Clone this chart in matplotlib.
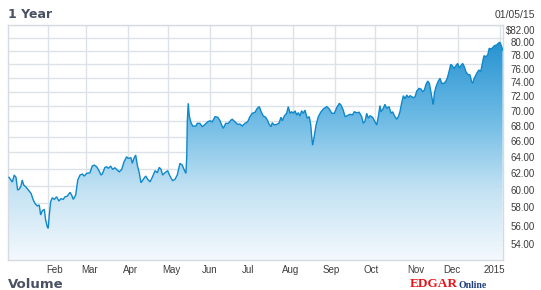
import numpy as np
import pandas as pd
import matplotlib
matplotlib.use("Agg")
import matplotlib.pyplot as plt
from matplotlib.colors import LinearSegmentedColormap
from matplotlib.transforms import blended_transform_factory, ScaledTranslation

# ---- data: day offset from 2014-01-01 and closing price ----
days = [2.4, 3.9, 4.9, 6.3, 7.6, 8.8, 9.8, 11.1, 12.2, 13.3, 14.8, 16.7, 18.7, 20.4, 21.6,
        23.3, 24.8, 25.8, 27.0, 28.5, 29.5, 30.7, 31.4, 32.2, 33.2, 34.4, 35.9, 37.6, 39.3,
        40.8, 42.5, 43.8, 45.5, 47.5, 48.7, 49.9, 51.7, 53.2, 54.9, 56.6, 58.0, 59.8, 62.2,
        63.9, 65.4, 67.2, 68.9, 70.4, 71.3, 73.3, 74.6, 75.8, 77.5, 79.0, 80.7, 82.4, 83.9,
        85.7, 87.4, 89.3, 90.5, 92.5, 93.5, 94.7, 96.0, 97.2, 98.7, 99.9, 101.6, 103.4, 104.9,
        106.6, 108.3, 110.3, 112.0, 113.4, 114.7, 115.9, 117.6, 119.6, 121.3, 123.3, 125.0,
        126.7, 128.7, 130.4, 131.9, 133.1, 133.7, 134.1, 134.8, 135.6, 136.6, 138.1, 140.5,
        141.5, 143.4, 145.2, 147.2, 149.2, 150.9, 152.6, 154.6, 156.6, 158.3, 159.5, 160.7,
        162.5, 164.4, 166.4, 167.3, 169.3, 171.3, 173.0, 174.7, 176.7, 178.7, 180.4, 182.1,
        184.1, 185.8, 187.3, 188.5, 190.2, 192.0, 193.5, 194.5, 195.9, 196.9, 198.4, 200.1,
        201.8, 203.3, 204.3, 205.8, 207.5, 208.7, 210.0, 211.2, 212.4, 213.7, 214.9, 216.1,
        217.3, 218.6, 219.8, 221.0, 222.7, 224.2, 225.3, 226.0, 226.7, 227.7, 229.2, 230.9,
        232.6, 234.6, 237.1, 239.0, 240.8, 242.7, 244.5, 246.4, 247.6, 249.3, 250.6, 252.3,
        254.3, 256.0, 257.5, 259.2, 261.1, 262.9, 264.1, 265.4, 266.6, 267.8, 269.1, 271.1,
        272.7, 274.0, 275.2, 276.4, 277.2, 278.9, 280.1, 281.4, 283.1, 284.6, 285.8, 287.0,
        288.8, 290.0, 291.2, 292.5, 293.7, 294.9, 296.2, 297.4, 298.6, 299.9, 301.1, 302.3,
        303.6, 305.3, 306.7, 308.0, 309.2, 310.4, 311.7, 312.9, 313.9, 315.1, 315.8, 316.6,
        317.8, 319.5, 320.8, 322.0, 323.7, 325.2, 326.2, 327.4, 328.7, 329.8, 331.1, 332.5,
        333.8, 335.0, 336.2, 337.5, 338.7, 339.9, 341.2, 342.9, 344.1, 344.9, 345.8, 347.3,
        348.3, 349.5, 350.8, 352.0, 353.2, 354.7, 356.0, 357.1, 358.4, 359.7, 360.9, 362.6,
        363.8, 365.0, 366.3, 367.0]
prices = [60.97, 60.65, 60.41, 61.24, 60.97, 59.48, 59.56, 59.86, 60.65, 60.06, 59.86, 59.48,
          59.10, 58.33, 57.96, 57.66, 57.77, 56.66, 57.13, 57.29, 56.11, 55.38, 55.21, 56.66,
          58.15, 58.59, 58.41, 58.70, 58.22, 58.48, 58.41, 58.70, 58.78, 59.21, 58.90, 58.41,
          58.90, 60.65, 61.24, 61.36, 61.12, 61.44, 61.51, 62.32, 62.44, 62.23, 61.76, 61.24,
          61.36, 62.16, 62.23, 62.04, 62.32, 61.92, 62.11, 61.83, 61.63, 61.92, 62.84, 63.46,
          63.26, 63.34, 62.65, 63.26, 63.67, 62.44, 61.44, 60.33, 60.73, 61.12, 60.73, 60.44,
          60.97, 61.76, 61.51, 62.16, 61.92, 61.24, 61.51, 61.76, 61.12, 60.57, 60.73, 61.24,
          62.65, 62.44, 61.83, 61.44, 63.46, 67.93, 70.41, 68.70, 67.93, 67.37, 67.37, 67.72,
          67.72, 67.28, 67.59, 67.93, 68.06, 67.93, 68.61, 68.53, 68.06, 67.50, 67.07, 67.72,
          67.72, 68.16, 68.26, 67.93, 67.59, 67.63, 67.37, 67.72, 67.93, 68.61, 69.06, 69.19,
          69.73, 69.96, 69.35, 68.70, 68.53, 68.06, 67.63, 67.28, 67.80, 67.50, 67.59, 67.72,
          68.53, 68.06, 68.70, 69.06, 69.96, 69.06, 69.26, 69.06, 69.39, 68.83, 69.14, 68.70,
          69.39, 69.06, 69.48, 68.40, 68.61, 67.50, 65.98, 64.90, 65.85, 67.50, 68.61, 69.19,
          69.64, 69.96, 69.64, 69.06, 69.06, 69.83, 70.41, 70.18, 69.48, 68.61, 68.74, 68.93,
          68.83, 69.26, 69.14, 69.19, 68.61, 67.72, 68.02, 69.06, 68.40, 68.74, 68.48, 67.93,
          67.50, 68.61, 70.09, 69.26, 69.73, 70.27, 69.73, 69.96, 69.06, 69.26, 68.74, 68.26,
          68.61, 69.29, 70.52, 71.46, 71.04, 71.56, 71.19, 71.46, 71.32, 71.19, 71.32, 72.11,
          72.49, 72.39, 72.02, 72.25, 73.06, 73.53, 73.20, 72.11, 70.87, 70.27, 71.80, 72.72,
          73.53, 73.92, 73.20, 73.20, 73.53, 74.00, 74.88, 75.96, 75.75, 75.37, 75.75, 76.09,
          75.44, 75.75, 76.09, 75.60, 74.88, 74.50, 74.40, 73.43, 73.20, 73.82, 74.40, 74.79,
          75.13, 74.88, 76.09, 77.24, 77.10, 77.35, 78.37, 78.26, 78.47, 78.76, 78.87, 79.14,
          79.30, 78.62, 78.10]

y_ticks = [54, 56, 58, 60, 62, 64, 66, 68, 70, 72, 74, 76, 78, 80, 82]
y_labels = ["54.00", "56.00", "58.00", "60.00", "62.00", "64.00", "66.00", "68.00",
            "70.00", "72.00", "74.00", "76.00", "78.00", "80.00", "$82.00"]
grid_months = ["2014-02-01", "2014-03-01", "2014-04-01", "2014-05-01", "2014-06-01",
               "2014-07-01", "2014-08-01", "2014-09-01", "2014-10-01", "2014-11-01",
               "2014-12-01", "2015-01-01"]
month_labels = ["Feb", "Mar", "Apr", "May", "Jun", "Jul", "Aug", "Sep", "Oct", "Nov", "Dec", "2015"]
month_label_days = [36.4, 62.2, 92.3, 122.0, 150.8, 178.7, 210.7, 240.2, 269.7, 302.7, 329.3, 360.8]

t0 = pd.Timestamp("2014-01-01")
dates = t0 + pd.to_timedelta(np.array(days), unit="D")
x = matplotlib.dates.date2num(dates)
y = np.array(prices)

W, H = 541, 290
fig = plt.figure(figsize=(W / 100, H / 100), dpi=100)
ax = fig.add_axes([8 / W, 1 - 260 / H, (503.3 - 8) / W, (260 - 25) / H])
ax.set_yscale("log")
xmin = matplotlib.dates.date2num(t0 + pd.Timedelta(days=1.7))
xmax = matplotlib.dates.date2num(t0 + pd.Timedelta(days=367.5))
ymin, ymax = 51.91, 82.0
ax.set_xlim(xmin, xmax)
ax.set_ylim(ymin, ymax)

grid_c = "#dde1e8"
for v in y_ticks:
    ax.axhline(v, color=grid_c, lw=1.0, zorder=0)
for m in grid_months:
    ax.axvline(matplotlib.dates.date2num(pd.Timestamp(m)), color=grid_c, lw=1.0, zorder=0)

# gradient fill
cmap = LinearSegmentedColormap.from_list(
    "fillgrad", [(0.0, "#f4f9fd"), (0.3, "#c3e2f3"), (0.6, "#6ebbe5"), (1.0, "#178acc")])
poly = ax.fill_between(x, y, ymin, color="none", lw=0, zorder=2)
grad = np.linspace(0, 1, 256).reshape(-1, 1)
im = ax.imshow(grad, cmap=cmap, extent=[0, 1, 0, 1], origin="lower",
               transform=ax.transAxes, aspect="auto", zorder=2, interpolation="bilinear")
path = poly.get_paths()[0]
im.set_clip_path(path, transform=ax.transData)
ax.set_xlim(xmin, xmax)
ax.set_ylim(ymin, ymax)
ax.plot(x, y, color="#0f88cb", lw=1.0, zorder=3, solid_joinstyle="miter")

for s in ax.spines.values():
    s.set_color("#d6dbe3")
    s.set_linewidth(1.0)
ax.set_xticks([])
ax.set_yticks([])
ax.minorticks_off()
ax.yaxis.set_minor_locator(matplotlib.ticker.NullLocator())

font = "Liberation Sans"
tc = "#3c3c3c"
trans_y = blended_transform_factory(fig.transFigure, ax.transData) + \
    ScaledTranslation(0, -5.5 / 100, fig.dpi_scale_trans)
for v, lab in zip(y_ticks, y_labels):
    fig.text(535 / W, v, lab, transform=trans_y, ha="right", va="center",
             fontsize=7, family=font, color=tc)

trans_x = blended_transform_factory(ax.transData, fig.transFigure)
for d, lab in zip(month_label_days, month_labels):
    xd = matplotlib.dates.date2num(t0 + pd.Timedelta(days=d))
    ax.text(xd, 1 - 270 / H, lab, transform=trans_x, ha="center", va="center",
            fontsize=7, family=font, color=tc)

fig.text(8 / W, 1 - 15 / H, "1 Year", ha="left", va="center", fontsize=9,
         fontweight="bold", family="DejaVu Sans", color="#4a5163")
fig.text(535 / W, 1 - 15 / H, "01/05/15", ha="right", va="center", fontsize=7.5,
         family=font, color=tc)
fig.text(8 / W, 1 - 284 / H, "Volume", ha="left", va="center", fontsize=9.5,
         fontweight="bold", family="DejaVu Sans", color="#4a5163")
e = fig.text(410 / W, 1 - 284 / H, "EDGAR", ha="left", va="center", fontsize=9.5,
             fontweight="bold", family="Liberation Serif", color="#e3151b")
fig.canvas.draw()
bb = e.get_window_extent()
fig.text((bb.x1 + 0.5) / W, 1 - 285 / H, "Online", ha="left", va="center", fontsize=7,
         fontweight="bold", family="Liberation Serif", color="#1e3f7c")

fig.savefig("out.png", dpi=100)
